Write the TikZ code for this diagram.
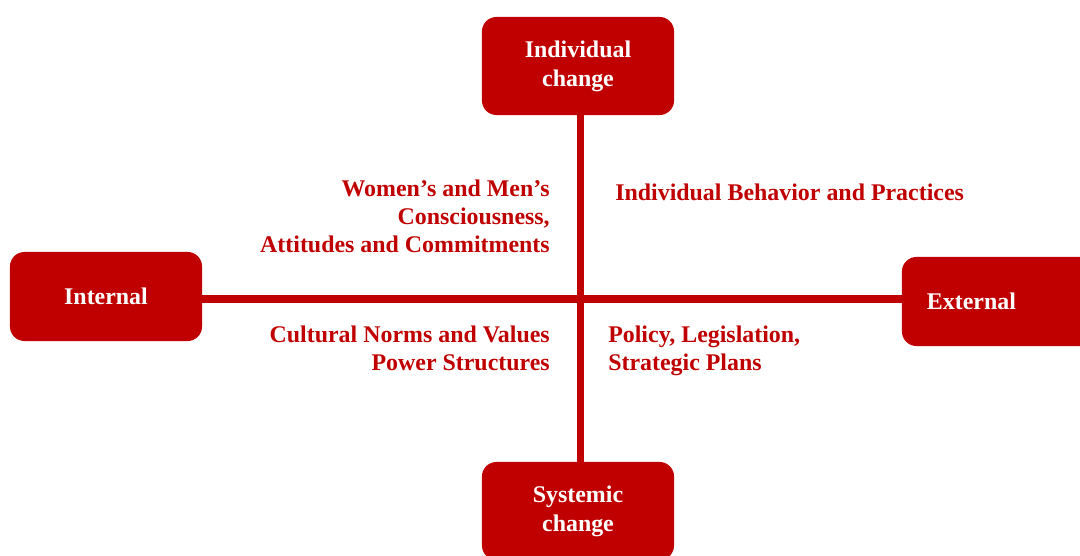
\documentclass[tikz,border=0pt]{standalone}
\usepackage{fontspec}
\setmainfont{Liberation Serif}
\usepackage{xcolor}
\usepackage{tikz}
\usetikzlibrary{positioning, calc}
\definecolor{deepred}{HTML}{C00000}
\tikzset{
  polebox/.style={
    rectangle, rounded corners=0.36cm, fill=deepred, draw=none,
    text=white, align=center, inner sep=0pt,
    font=\bfseries\fontsize{17}{20.5}\selectfont,
    minimum width=4.8cm, minimum height=2.45cm
  },
  sidebox/.style={
    polebox, minimum height=2.225cm
  },
  axisline/.style={
    draw=deepred, line width=5pt
  },
  quadlabel/.style={
    text=deepred, inner sep=0pt,
    font=\bfseries\fontsize{17}{20}\selectfont
  },
}

\begin{document}
\begin{tikzpicture}[x=0.025cm, y=-0.025cm]
  \useasboundingbox (0,0) rectangle (1080,556);
  \clip (0,0) rectangle (1080,556);

  % Poles
  \node[polebox] (individual) at (578,66) {Individual\\change};
  \node[polebox] (systemic) at (578,511) {Systemic\\change};
  \node[sidebox] (internal) at (106,296.5) {Internal};
  \node[sidebox, align=left, text width=3.55cm, inner xsep=0.625cm]
    (external) at (998,301.5) {External};

  % Axes
  \coordinate (hub) at (580.5,299);
  \draw[axisline] (individual.south -| hub) -- (systemic.north -| hub);
  \draw[axisline] (internal.east |- hub) -- (external.west |- hub);

  % Quadrants (base = last line)
  \node[quadlabel, align=right, anchor=base east] (consciousness) at (550,253)
    {Women's and Men's\\Consciousness,\\Attitudes and Commitments};
  \node[quadlabel, anchor=base west] (behavior) at (615,201)
    {Individual Behavior and Practices};
  \node[quadlabel, align=right, anchor=base east] (norms) at (550,371)
    {Cultural Norms and Values\\Power Structures};
  \node[quadlabel, align=left, anchor=base west] (policy) at (608,371)
    {Policy, Legislation,\\Strategic Plans};
\end{tikzpicture}
\end{document}
